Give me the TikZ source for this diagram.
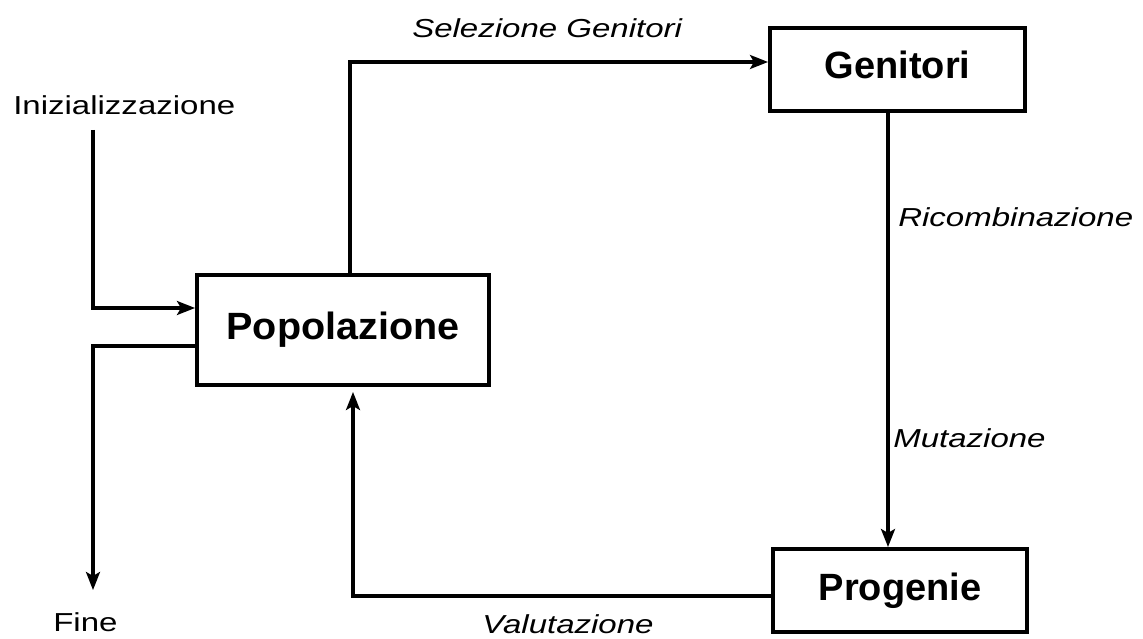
\documentclass[tikz,border=0pt]{standalone}
\usepackage{fontspec}
\setmainfont{Liberation Sans}
\usetikzlibrary{arrows.meta}
\begin{document}
\begin{tikzpicture}[x=1pt,y=-1pt,
  boxnode/.style={draw=black,line width=4pt,fill=white,inner sep=0pt,
    font=\fontsize{38}{44}\selectfont\bfseries,text height=27pt,text depth=8pt},
  lbl/.style={inner sep=0pt,font=\fontsize{26}{30}\selectfont,xscale=1.27},
  ilbl/.style={lbl,font=\fontsize{26}{30}\selectfont\itshape},
  conn/.style={line width=3.2pt,draw=black},
  arr/.style={conn,-{Stealth[length=18pt,width=14pt,inset=4pt]}}]
\useasboundingbox[fill=white] (0,0) rectangle (1143,639);

\node[boxnode,minimum width=292pt,minimum height=110pt] (pop) at (343,330) {\scalebox{1.04}[1]{Popolazione}};
\node[boxnode,minimum width=255pt,minimum height=83pt] (gen) at (897.5,69.5) {Genitori};
\node[boxnode,minimum width=254pt,minimum height=83pt] (prog) at (900,590.5) {Progenie};

\node[lbl,anchor=base west] (init) at (13,115) {Inizializzazione};
\node[lbl,anchor=base west] (fine) at (53,631) {Fine};
\node[ilbl,anchor=base west] (sel) at (412,38) {Selezione Genitori};
\node[ilbl,anchor=base west] (ric) at (898,226) {Ricombinazione};
\node[ilbl,anchor=base west] (mut) at (893,447) {Mutazione};
\node[ilbl,anchor=base west] (val) at (482,633) {Valutazione};

\coordinate (i1) at (93,130);
\coordinate (f1) at (93,590);

\draw[arr] (i1) |- ([yshift=22pt]pop.west);
\draw[arr] ([yshift=-16pt]pop.west) -| (f1);
\draw[arr] ([xshift=7pt]pop.north) |- ([yshift=7.5pt]gen.west);
\draw[arr] ([xshift=-9.5pt]gen.south) -- ([xshift=-9.5pt]gen.south |- prog.north);
\draw[arr] ([yshift=-5.5pt]prog.west) -| ([xshift=10pt,yshift=-5pt]pop.south);
\end{tikzpicture}
\end{document}
